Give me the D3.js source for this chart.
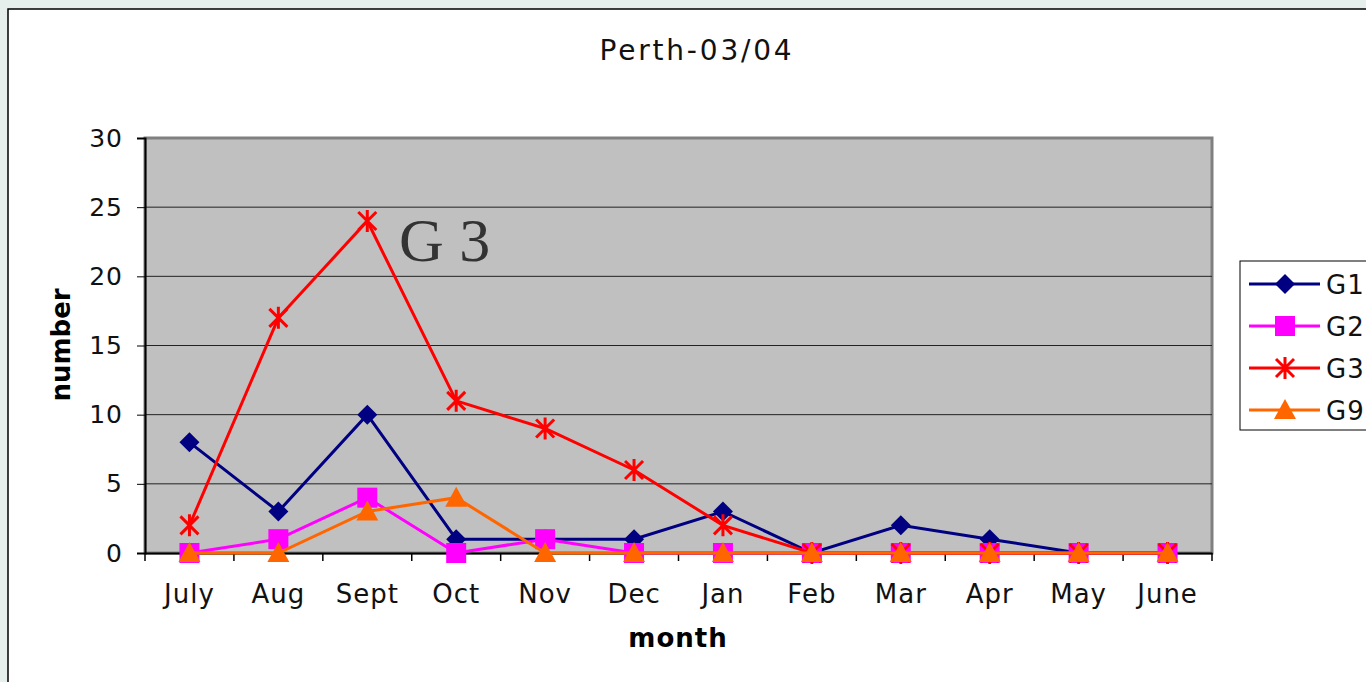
<!DOCTYPE html>
<html>
<head>
<meta charset="utf-8">
<script src="https://cdn.jsdelivr.net/npm/d3@7"></script>
<style>
body { margin: 0; background: #e6efec; overflow: hidden; }
text { font-family: "DejaVu Sans", Verdana, sans-serif; }
</style>
</head>
<body>
<svg id="chart" width="1366" height="682"></svg>
<script>
var months = ["July", "Aug", "Sept", "Oct", "Nov", "Dec", "Jan", "Feb", "Mar", "Apr", "May", "June"];
var g1 = [8, 3, 10, 1, 1, 1, 3, 0, 2, 1, 0, 0];
var g2 = [0, 1, 4, 0, 1, 0, 0, 0, 0, 0, 0, 0];
var g3 = [2, 17, 24, 11, 9, 6, 2, 0, 0, 0, 0, 0];
var g9 = [0, 0, 3, 4, 0, 0, 0, 0, 0, 0, 0, 0];
var yTicks = [0, 5, 10, 15, 20, 25, 30];

var series = [
	{name: "G1", values: g1, color: "#000080", shape: "diamond"},
	{name: "G2", values: g2, color: "#ff00ff", shape: "square"},
	{name: "G3", values: g3, color: "#ff0000", shape: "star"},
	{name: "G9", values: g9, color: "#ff6600", shape: "triangle"}
];

var svg = d3.select("#chart");

// white panel
svg.append("rect").attr("x", 8).attr("y", 9).attr("width", 1400).attr("height", 700)
	.attr("fill", "#fff").attr("stroke", "#000").attr("stroke-width", 1.5);

var plotL = 145, plotR = 1212, plotT = 138, plotB = 553;

var x = d3.scaleBand().domain(months).range([plotL, plotR]);
var y = d3.scaleLinear().domain([0, 30]).range([plotB, plotT]);

// plot area
svg.append("rect").attr("x", plotL).attr("y", plotT).attr("width", plotR - plotL).attr("height", plotB - plotT)
	.attr("fill", "#c0c0c0").attr("stroke", "#808080").attr("stroke-width", 3);

// gridlines
svg.append("g").selectAll("line").data(yTicks.slice(1, -1)).enter().append("line")
	.attr("x1", plotL).attr("x2", plotR)
	.attr("y1", function(d) { return y(d); }).attr("y2", function(d) { return y(d); })
	.attr("stroke", "#222").attr("stroke-width", 1);

// y axis
var yAxis = svg.append("g").attr("transform", "translate(" + plotL + ",0)")
	.call(d3.axisLeft(y).tickValues(yTicks).tickSize(8).tickPadding(14));
yAxis.select(".domain").attr("stroke", "#000").attr("stroke-width", 2);
yAxis.selectAll("text").style("font-size", "25px").style("letter-spacing", "1px").attr("fill", "#111");

// x axis
var xAxis = svg.append("g").attr("transform", "translate(0," + plotB + ")")
	.call(d3.axisBottom(x).tickSize(0).tickPadding(32));
xAxis.select(".domain").attr("stroke", "#000").attr("stroke-width", 2);
xAxis.selectAll("text").style("font-size", "26px").style("letter-spacing", "1px").attr("fill", "#111");
var xTickPos = months.map(function(m) { return x(m); }).concat([plotR]);
xAxis.selectAll(".bound").data(xTickPos).enter().append("line").attr("class", "bound")
	.attr("x1", function(d) { return d; }).attr("x2", function(d) { return d; })
	.attr("y1", 0).attr("y2", 8).attr("stroke", "#000").attr("stroke-width", 1.5);

// title and axis labels
svg.append("text").attr("x", 697).attr("y", 60).attr("text-anchor", "middle").attr("fill", "#111")
	.style("font-size", "28px").style("letter-spacing", "2.8px").text("Perth-03/04");
svg.append("text").attr("x", 678).attr("y", 647).attr("text-anchor", "middle")
	.style("font-size", "26px").style("font-weight", "bold").style("letter-spacing", "1px").text("month");
svg.append("text").attr("transform", "translate(70,345) rotate(-90)").attr("text-anchor", "middle")
	.style("font-size", "26px").style("font-weight", "bold").text("number");

// annotation
svg.append("text").attr("x", 399).attr("y", 261)
	.style("font-family", "'Liberation Serif', 'Times New Roman', serif").style("font-size", "62px")
	.attr("fill", "#333").text("G 3");

function cx(i) { return x(months[i]) + x.bandwidth() / 2; }

function drawMarker(g, shape, color, px, py) {
	if (shape == "diamond") {
		var d = 10;
		g.append("path").attr("d", "M" + px + "," + (py - d) + "L" + (px + d) + "," + py + "L" + px + "," + (py + d) + "L" + (px - d) + "," + py + "Z")
			.attr("fill", color);
	} else if (shape == "square") {
		g.append("rect").attr("x", px - 10).attr("y", py - 10).attr("width", 20).attr("height", 20).attr("fill", color);
	} else if (shape == "star") {
		var s = 9;
		g.append("path").attr("d", "M" + (px - s) + "," + (py - s) + "L" + (px + s) + "," + (py + s) +
			"M" + (px - s) + "," + (py + s) + "L" + (px + s) + "," + (py - s) +
			"M" + px + "," + (py - s - 2) + "L" + px + "," + (py + s + 2))
			.attr("stroke", color).attr("stroke-width", 3).attr("fill", "none");
	} else if (shape == "triangle") {
		g.append("path").attr("d", "M" + px + "," + (py - 11) + "L" + (px + 11) + "," + (py + 9) + "L" + (px - 11) + "," + (py + 9) + "Z")
			.attr("fill", color);
	}
}

var line = d3.line().x(function(d, i) { return cx(i); }).y(function(d) { return y(d); });

series.forEach(function(s) {
	var g = svg.append("g");
	g.append("path").datum(s.values).attr("d", line).attr("fill", "none")
		.attr("stroke", s.color).attr("stroke-width", 3);
	s.values.forEach(function(v, i) { drawMarker(g, s.shape, s.color, cx(i), y(v)); });
});

// legend
var lg = svg.append("g");
lg.append("rect").attr("x", 1240).attr("y", 261).attr("width", 140).attr("height", 169)
	.attr("fill", "#fff").attr("stroke", "#000").attr("stroke-width", 1);
series.forEach(function(s, i) {
	var ly = 284 + i * 42;
	lg.append("line").attr("x1", 1249).attr("x2", 1320).attr("y1", ly).attr("y2", ly)
		.attr("stroke", s.color).attr("stroke-width", 3);
	drawMarker(lg, s.shape, s.color, 1285, ly);
	lg.append("text").attr("x", 1326).attr("y", ly + 10).attr("fill", "#111").style("font-size", "26px").style("letter-spacing", "1px").text(s.name);
});
</script>
</body>
</html>
